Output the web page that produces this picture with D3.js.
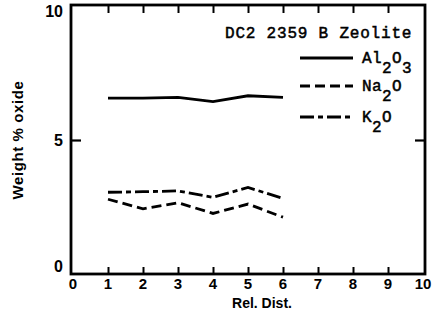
<!DOCTYPE html>
<html><head><meta charset="utf-8">
<script src="https://cdn.jsdelivr.net/npm/d3@7"></script>
<style>body{margin:0;background:#fff}svg{display:block}</style>
</head><body>
<script>
const relDist = [1, 2, 3, 4, 5, 6];
const al2o3 = [6.56, 6.56, 6.59, 6.43, 6.65, 6.59];
const na2o  = [2.79, 2.43, 2.66, 2.26, 2.61, 2.12];
const k2o   = [3.05, 3.07, 3.10, 2.86, 3.23, 2.82];
const xTicks = [0,1,2,3,4,5,6,7,8,9,10];
const yTickLabels = [0, 5, 10];
const title = "DC2 2359 B Zeolite";

const W = 438, H = 323;
const svg = d3.select("body").append("svg").attr("width", W).attr("height", H);
const x = d3.scaleLinear().domain([0,10]).range([73, 423]);
const y = d3.scaleLinear().domain([0,10]).range([274, 6]);
const sans = "'Liberation Sans', Arial, sans-serif";
const mono = "'Liberation Mono', 'DejaVu Sans Mono', monospace";

// frame
svg.append("rect").attr("x", 71).attr("y", 5).attr("width", 354).attr("height", 269)
  .attr("fill","none").attr("stroke","#000").attr("stroke-width",2.8);

// bottom ticks (inward)
const gb = svg.append("g").attr("transform",`translate(0,${y(0)})`)
  .call(d3.axisBottom(x).tickValues(xTicks.slice(1,-1)).tickSize(-7).tickFormat(""));
gb.select(".domain").remove();
gb.selectAll("line").attr("stroke-width",2);
// top ticks
const gt = svg.append("g").attr("transform",`translate(0,${y(10)})`)
  .call(d3.axisTop(x).tickValues(xTicks.slice(1,-1)).tickSize(-7).tickFormat(""));
gt.select(".domain").remove();
gt.selectAll("line").attr("stroke-width",2);
// left / right ticks at 5
const gl = svg.append("g").attr("transform",`translate(${x(0)-2},0)`)
  .call(d3.axisLeft(y).tickValues([5]).tickSize(-10).tickFormat(""));
gl.select(".domain").remove(); gl.selectAll("line").attr("stroke-width",2.2);
const gr = svg.append("g").attr("transform",`translate(${x(10)+2},0)`)
  .call(d3.axisRight(y).tickValues([5]).tickSize(-10).tickFormat(""));
gr.select(".domain").remove(); gr.selectAll("line").attr("stroke-width",2.2);

// x tick labels
svg.append("g").selectAll("text").data(xTicks).join("text")
  .attr("x", d => x(d)).attr("y", 289).attr("text-anchor","middle")
  .attr("font-family", sans).attr("font-weight","bold").attr("font-size",15)
  .text(d => d);
// y tick labels
svg.append("g").selectAll("text").data(yTickLabels).join("text")
  .attr("x", 63).attr("y", d => y(d) + (d===0 ? -2 : d===10 ? 11 : 6))
  .attr("text-anchor","end")
  .attr("font-family", sans).attr("font-weight","bold").attr("font-size",16)
  .text(d => d);

// axis titles
svg.append("text").attr("x", 262).attr("y", 308).attr("text-anchor","middle")
  .attr("font-family", sans).attr("font-weight","bold").attr("font-size",14)
  .text("Rel. Dist.");
svg.append("text").attr("transform","translate(23,140) rotate(-90)")
  .attr("text-anchor","middle").attr("font-family", sans).attr("font-weight","bold")
  .attr("font-size",15).attr("letter-spacing",0.6).text("Weight % oxide");

// title
svg.append("text").attr("x", 225).attr("y", 38)
  .attr("font-family", mono).attr("font-size",16).attr("letter-spacing",0.8)
  .attr("stroke","#000").attr("stroke-width",0.5)
  .text(title);

// series
const series = [
  {name:"Al2O3", vals: al2o3, dash: null, ly: 58, parts:[["Al",0],["2",1],["O",0],["3",1]]},
  {name:"Na2O", vals: na2o, dash: "10,5", ly: 86, parts:[["Na",0],["2",1],["O",0]]},
  {name:"K2O", vals: k2o, dash: "14,4,5,4", ly: 117, parts:[["K",0],["2",1],["O",0]]}
];
const line = d3.line().x((d,i) => x(relDist[i])).y(d => y(d));
series.forEach(s => {
  svg.append("path").attr("d", line(s.vals)).attr("fill","none")
    .attr("stroke","#000").attr("stroke-width",2.8)
    .attr("stroke-dasharray", s.dash);
  svg.append("line").attr("x1",300).attr("x2",353).attr("y1",s.ly).attr("y2",s.ly)
    .attr("stroke","#000").attr("stroke-width",2.8).attr("stroke-dasharray", s.dash);
  const t = svg.append("text").attr("x", 362).attr("y", s.ly + 5)
    .attr("font-family", mono).attr("font-size",16).attr("letter-spacing",0.4)
    .attr("stroke","#000").attr("stroke-width",0.5);
  let prev = 0;
  s.parts.forEach(([str, sub]) => {
    const dy = (sub - prev) * 10;
    t.append("tspan").attr("dy", dy).text(str);
    prev = sub;
  });
});
</script>
</body></html>
